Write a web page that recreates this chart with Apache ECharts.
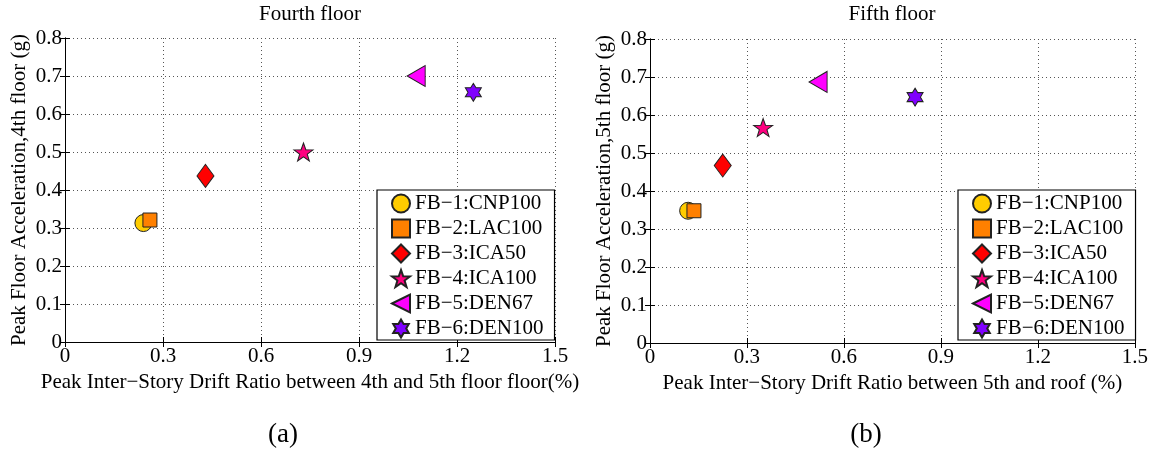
<!DOCTYPE html>
<html>
<head>
<meta charset="utf-8">
<script src="https://cdn.jsdelivr.net/npm/echarts@6/dist/echarts.min.js"></script>
<style>
html,body{margin:0;padding:0;background:#fff;}
#chart{width:1151px;height:453px;}
</style>
</head>
<body>
<div id="chart"></div>
<script>
// ---- data ----
const seriesNames = ['FB\u22121:CNP100', 'FB\u22122:LAC100', 'FB\u22123:ICA50', 'FB\u22124:ICA100', 'FB\u22125:DEN67', 'FB\u22126:DEN100'];
const drift4 = [0.24, 0.26, 0.43, 0.73, 1.075, 1.25];
const accel4 = [0.313, 0.321, 0.437, 0.50, 0.70, 0.657];
const drift5 = [0.118, 0.136, 0.225, 0.35, 0.52, 0.82];
const accel5 = [0.348, 0.348, 0.467, 0.567, 0.687, 0.647];
const panelTitles = ['Fourth floor', 'Fifth floor'];
const xNames = ['Peak Inter\u2212Story Drift Ratio between 4th and 5th floor floor(%)', 'Peak Inter\u2212Story Drift Ratio between 5th and roof (%)'];
const yNames = ['Peak Floor Acceleration,4th floor (g)', 'Peak Floor Acceleration,5th floor (g)'];
const panelLabels = ['(a)', '(b)'];

// ---- styling ----
const FONT = 'Liberation Serif';
const colors = ['#FFCC00', '#FF8000', '#FF0000', '#FF0080', '#FF00FF', '#8000FF'];
const symbols = [
  'circle',
  'rect',
  'diamond',
  'path://M0,-10 L2.35,-3.24 L9.51,-3.09 L3.8,1.24 L5.88,8.09 L0,4 L-5.88,8.09 L-3.8,1.24 L-9.51,-3.09 L-2.35,-3.24 Z',
  'path://M0,5 L10,0 L10,10 Z',
  'path://M0,-10 L2.89,-5 L8.66,-5 L5.77,0 L8.66,5 L2.89,5 L0,10 L-2.89,5 L-8.66,5 L-5.77,0 L-8.66,-5 L-2.89,-5 Z'
];
const sizes = [17, 14, [17, 23], [19, 18], [18, 21], [16, 18]];

const grids = [
  {left: 65, top: 38, width: 490, height: 304},
  {left: 650, top: 39, width: 485, height: 304}
];

function fmt(v){ return String(Math.round(v * 10) / 10); }

const xAxes = [], yAxes = [];
[0, 1].forEach(i => {
  xAxes.push({
    gridIndex: i, type: 'value', min: 0, max: 1.5, interval: 0.3,
    name: xNames[i], nameLocation: 'middle', nameGap: 28,
    nameTextStyle: {fontFamily: FONT, fontSize: 21, color: '#000'},
    axisLine: {lineStyle: {color: '#000', width: 1}},
    axisTick: {inside: true, length: 5, lineStyle: {color: '#000'}},
    axisLabel: {fontFamily: FONT, fontSize: 21, color: '#000', margin: 4, formatter: fmt},
    splitLine: {show: true, lineStyle: {color: '#555', type: [1, 3], width: 1}}
  });
  yAxes.push({
    gridIndex: i, type: 'value', min: 0, max: 0.8, interval: 0.1,
    name: yNames[i], nameLocation: 'middle', nameGap: 35, nameRotate: 90,
    nameTextStyle: {fontFamily: FONT, fontSize: 21, color: '#000'},
    axisLine: {lineStyle: {color: '#000', width: 1}},
    axisTick: {inside: true, length: 5, lineStyle: {color: '#000'}},
    axisLabel: {fontFamily: FONT, fontSize: 21, color: '#000', margin: 3, formatter: fmt},
    splitLine: {show: true, lineStyle: {color: '#555', type: [1, 3], width: 1}}
  });
});
[0, 1].forEach(i => {
  xAxes.push({
    gridIndex: i, type: 'value', min: 0, max: 1.5, interval: 0.3, position: 'top',
    axisLine: {show: true, lineStyle: {color: '#000'}},
    axisTick: {inside: true, length: 5, lineStyle: {color: '#000'}},
    axisLabel: {show: false}, splitLine: {show: false}
  });
  yAxes.push({
    gridIndex: i, type: 'value', min: 0, max: 0.8, interval: 0.1, position: 'right',
    axisLine: {show: true, lineStyle: {color: '#000'}},
    axisTick: {inside: true, length: 5, lineStyle: {color: '#000'}},
    axisLabel: {show: false}, splitLine: {show: false}
  });
});

const series = [];
const panels = [[drift4, accel4], [drift5, accel5]];
panels.forEach((p, g) => {
  seriesNames.forEach((nm, k) => {
    series.push({
      type: 'scatter', name: nm, xAxisIndex: g, yAxisIndex: g,
      symbol: symbols[k], symbolSize: sizes[k],
      itemStyle: {color: colors[k], borderColor: '#222', borderWidth: 1, opacity: 1},
      data: [[p[0][k], p[1][k]]],
      z: 3 + k
    });
  });
});

const legends = [
  {left: 377, top: 190},
  {left: 958, top: 190}
].map(pos => ({
  left: pos.left, top: pos.top, orient: 'vertical',
  data: seriesNames.map((n, k) => ({name: n, icon: symbols[k]})),
  backgroundColor: '#fff', borderColor: '#000', borderWidth: 1.2,
  padding: [3, 11, 1, 14], itemGap: 4, itemWidth: 18, itemHeight: 18, itemTextGap: 9,
  textStyle: {fontFamily: FONT, fontSize: 21, lineHeight: 20, color: '#000'},
  z: 10
}));

const titles = [
  {text: panelTitles[0], left: 310, top: 4, textAlign: 'center'},
  {text: panelTitles[1], left: 892, top: 4, textAlign: 'center'},
  {text: panelLabels[0], left: 283, top: 421, textAlign: 'center', fontSize: 27},
  {text: panelLabels[1], left: 866, top: 421, textAlign: 'center', fontSize: 27}
].map(t => ({
  text: t.text, left: t.left, top: t.top, textAlign: t.textAlign, padding: 0,
  textStyle: {fontFamily: FONT, fontSize: t.fontSize || 21, fontWeight: 'normal', color: '#000'}
}));

const chart = echarts.init(document.getElementById('chart'), null, {renderer: 'canvas'});
chart.setOption({
  animation: false,
  backgroundColor: '#fff',
  title: titles,
  legend: legends,
  grid: grids.map(g => Object.assign({show: false}, g)),
  xAxis: xAxes,
  yAxis: yAxes,
  series: series
});
</script>
</body>
</html>
